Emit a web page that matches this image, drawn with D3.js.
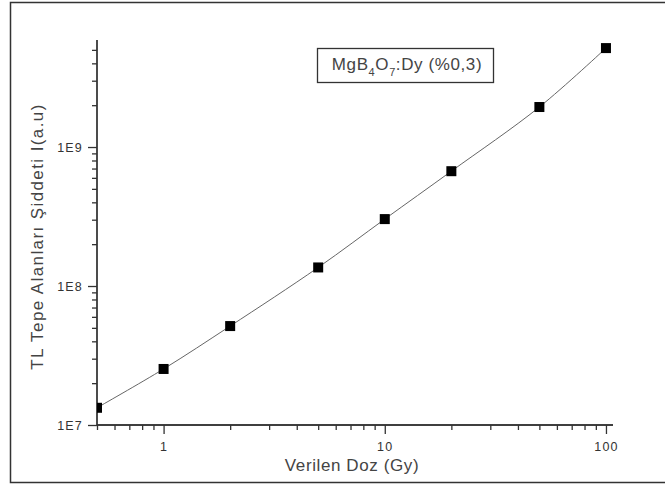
<!DOCTYPE html>
<html lang="tr">
<head>
  <meta charset="UTF-8">
  <title>TL doz cevabı</title>
  <script src="https://d3js.org/d3.v7.min.js"></script>
  <style>
    body { margin: 0; background: #fff; }
    text { font-family: "Liberation Sans", Arial, sans-serif; }
  </style>
</head>
<body>
<svg width="665" height="485"></svg>
<script>
  // doz (Gy) ve TL tepe alanı şiddeti
  const doses = [0.5, 1, 2, 5, 10, 20, 50, 100];
  const intensities = [1.33e7, 2.53e7, 5.15e7, 1.36e8, 3.03e8, 6.7e8, 1.94e9, 5.15e9];
  const xTicks = [1, 10, 100];
  const yTicks = [1e7, 1e8, 1e9];
  const yTickLabels = ["1E7", "1E8", "1E9"];

  const svg = d3.select("svg");

  // dış çerçeve
  svg.append("rect")
    .attr("x", 10.5).attr("y", 2.5)
    .attr("width", 670).attr("height", 480)
    .attr("fill", "none").attr("stroke", "#333").attr("stroke-width", 1.5);

  const pLeft = 97, pRight = 613, pTop = 40, pBottom = 425;

  const x = d3.scaleLog().domain([0.5, 107.6]).range([pLeft, pRight]);
  const y = d3.scaleLog().domain([1e7, Math.pow(10, 9.77)]).range([pBottom, pTop]);

  // minor ticks
  const xMinor = [];
  [0.1, 1, 10].forEach(b => { for (let k = 2; k <= 9; k++) { const v = b * k; if (v >= 0.5 && v <= 107.6) xMinor.push(v); } });
  const yMinor = [];
  [1e7, 1e8, 1e9].forEach(b => { for (let k = 2; k <= 9; k++) { const v = b * k; if (v <= y.domain()[1]) yMinor.push(v); } });

  const xAxis = svg.append("g").attr("transform", `translate(0,${pBottom})`);
  xAxis.call(d3.axisBottom(x).tickValues(xMinor).tickSize(5).tickFormat(""));
  xAxis.append("g").call(d3.axisBottom(x).tickValues(xTicks).tickSize(9).tickFormat(d3.format("d")));
  xAxis.selectAll(".domain").attr("d", `M${pLeft},0H${pRight}`);

  const yAxis = svg.append("g").attr("transform", `translate(${pLeft},0)`);
  yAxis.call(d3.axisLeft(y).tickValues(yMinor).tickSize(5).tickFormat(""));
  yAxis.append("g").call(d3.axisLeft(y).tickValues(yTicks).tickSize(9)
    .tickFormat((d, i) => yTickLabels[i]));
  yAxis.selectAll(".domain").attr("d", `M0,${pTop}V${pBottom}`);

  svg.selectAll(".domain").attr("stroke", "#333").attr("stroke-width", 1.3);
  svg.selectAll(".tick line").attr("stroke", "#333").attr("stroke-width", 1.3);
  svg.selectAll(".tick text")
    .style("font-size", "12.5px").style("letter-spacing", "1.2px").attr("fill", "#333")
    .style("font-family", "'Liberation Sans', Arial, sans-serif");
  xAxis.selectAll(".tick text").attr("dy", "1.15em");
  yAxis.selectAll(".tick text").attr("x", -14);

  // eğri
  const pts = doses.map((d, i) => [x(d), y(intensities[i])]);
  svg.append("path")
    .attr("d", d3.line().curve(d3.curveCatmullRom.alpha(0.5))(pts))
    .attr("fill", "none").attr("stroke", "#666").attr("stroke-width", 1);

  // noktalar
  svg.append("defs").append("clipPath").attr("id", "plotclip")
    .append("rect").attr("x", pLeft).attr("y", pTop - 20).attr("width", pRight - pLeft + 20).attr("height", pBottom - pTop + 20);

  svg.append("g").attr("clip-path", "url(#plotclip)")
    .selectAll("rect")
    .data(pts)
    .join("rect")
    .attr("x", d => d[0] - 5).attr("y", d => d[1] - 5)
    .attr("width", 10).attr("height", 10)
    .attr("fill", "#000");

  // eksen başlıkları
  svg.append("text")
    .attr("x", (pLeft + pRight) / 2 - 3).attr("y", 471)
    .attr("text-anchor", "middle").style("font-size", "17px").style("letter-spacing", "0.6px")
    .attr("fill", "#444")
    .text("Verilen Doz (Gy)");

  svg.append("text")
    .attr("transform", `translate(43,${(pTop + pBottom) / 2 + 4}) rotate(-90)`)
    .attr("text-anchor", "middle").style("font-size", "17px").style("letter-spacing", "1.4px")
    .attr("fill", "#444")
    .text("TL Tepe Alanları Şiddeti I(a.u)");

  // etiket kutusu
  svg.append("rect")
    .attr("x", 317.5).attr("y", 48.5).attr("width", 176).attr("height", 34)
    .attr("fill", "#fff").attr("stroke", "#333").attr("stroke-width", 1.3);

  const lbl = svg.append("text")
    .attr("x", 407).attr("y", 70)
    .attr("text-anchor", "middle").style("font-size", "17px").style("letter-spacing", "0.6px")
    .attr("fill", "#444");
  lbl.append("tspan").text("MgB");
  lbl.append("tspan").style("font-size", "11px").attr("dy", 6).text("4");
  lbl.append("tspan").attr("dy", -6).text("O");
  lbl.append("tspan").style("font-size", "11px").attr("dy", 6).text("7");
  lbl.append("tspan").attr("dy", -6).text(":Dy (%0,3)");
</script>
</body>
</html>
